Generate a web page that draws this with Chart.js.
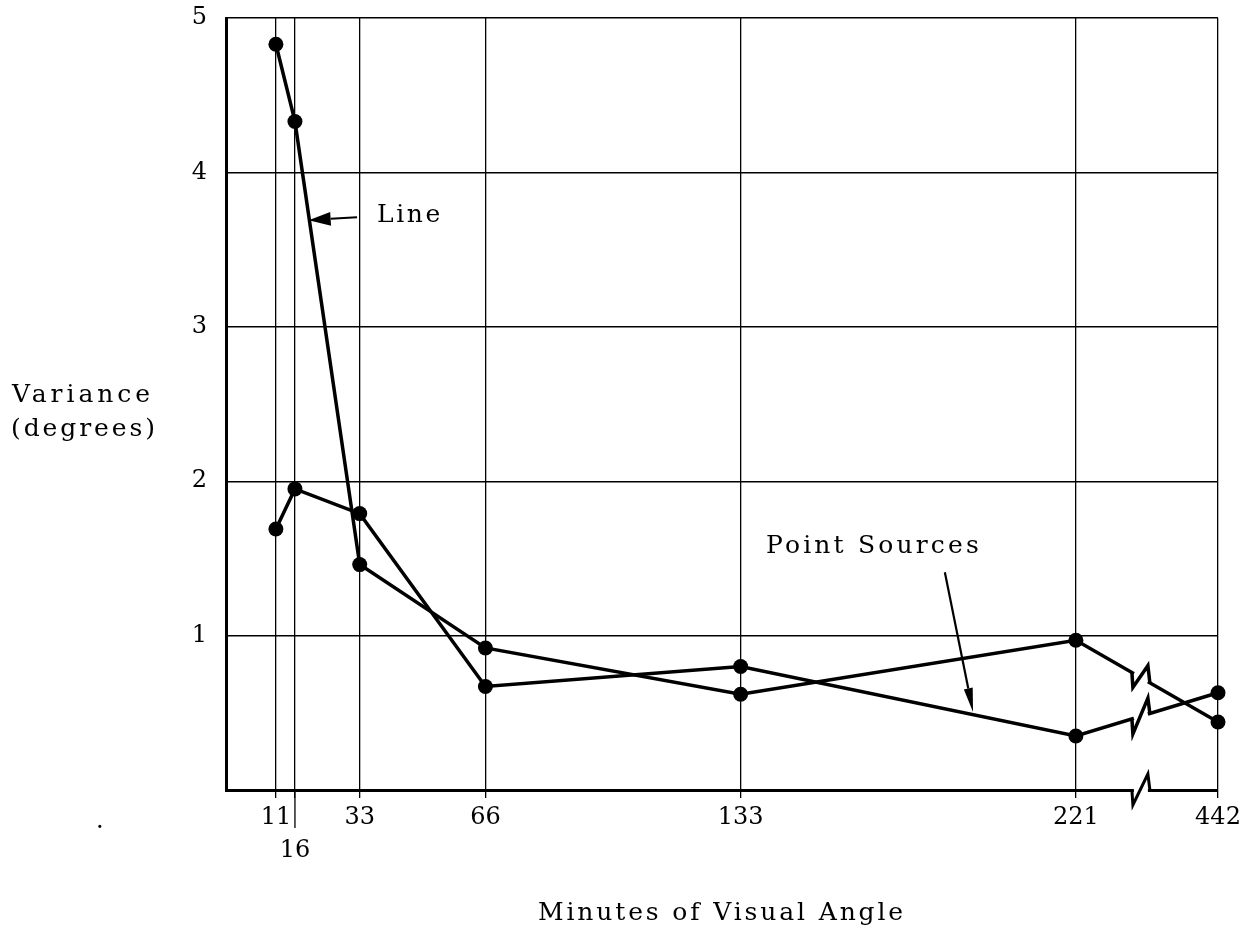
<!DOCTYPE html>
<html>
<head>
<meta charset="utf-8">
<script src="https://cdn.jsdelivr.net/npm/chart.js@4"></script>
<style>
  html, body { margin: 0; padding: 0; background: #ffffff; }
  #wrap { width: 1259px; height: 930px; }
</style>
</head>
<body>
<div id="wrap"><canvas id="c" width="1259" height="930"></canvas></div>
<script>
// ---- data ----
const xCategories = [11, 16, 33, 66, 133, 221, 442];          // minutes of visual angle
const lineVariance = [4.83, 4.33, 1.46, 0.92, 0.62, 0.97, 0.44];
const pointSourceVariance = [1.69, 1.95, 1.79, 0.67, 0.80, 0.35, 0.63];
const xTickLabels = ['11', '16', '33', '66', '133', '221', '442'];
const yTickValues = [0, 1, 2, 3, 4, 5];

// broken x axis: values beyond 221 are compressed
const BREAK_START = 221;
const BREAK_FACTOR = 0.1688;
const AXIS_BREAK_MARK = 235.7;   // axis position of the zig-zag break symbol
function axisPos(v) { return v <= BREAK_START ? v : BREAK_START + (v - BREAK_START) * BREAK_FACTOR; }

const FONT = 'DejaVu Serif';

function toPoints(series) { return xCategories.map((v, i) => ({ x: axisPos(v), y: series[i] })); }

const annotationPlugin = {
  id: 'annotations',
  afterDatasetsDraw(chart) {
    const ctx = chart.ctx;
    const xs = chart.scales.x, ys = chart.scales.y;
    const ca = chart.chartArea;

    // 16 grid line extends below the axis
    ctx.save();
    ctx.strokeStyle = '#000'; ctx.lineWidth = 1.3;
    const x16 = xs.getPixelForValue(axisPos(16));
    ctx.beginPath(); ctx.moveTo(x16, ca.bottom); ctx.lineTo(x16, ca.bottom + 38); ctx.stroke();
    ctx.restore();

    // zig-zag break marks
    const bx = xs.getPixelForValue(AXIS_BREAK_MARK);
    function zigzag(yAt, lw) {
      const A = [bx, yAt(bx)], D = [bx + 18, yAt(bx + 18)];
      const B = [bx + 1, yAt(bx) + 15], C = [bx + 16, yAt(bx + 16) - 16];
      ctx.save();
      ctx.strokeStyle = '#fff'; ctx.lineWidth = lw + 4;
      ctx.beginPath(); ctx.moveTo(A[0] + 2, A[1] + (D[1]-A[1]) * 2/18); ctx.lineTo(D[0] - 2, D[1] - (D[1]-A[1]) * 2/18); ctx.stroke();
      ctx.strokeStyle = '#000'; ctx.lineWidth = lw; ctx.lineJoin = 'miter';
      ctx.beginPath(); ctx.moveTo(A[0], A[1]); ctx.lineTo(B[0], B[1]); ctx.lineTo(C[0], C[1]); ctx.lineTo(D[0], D[1]); ctx.stroke();
      ctx.restore();
    }
    chart.data.datasets.forEach((ds, di) => {
      const pts = chart.getDatasetMeta(di).data;
      const p0 = pts[5], p1 = pts[6];
      zigzag(x => p0.y + (p1.y - p0.y) * (x - p0.x) / (p1.x - p0.x), 3.5);
    });
    const axisY = ys.getPixelForValue(0);
    zigzag(() => axisY, 3);

    // arrows
    function arrow(fx, fy, tx, ty, headLen, headW, lw) {
      const X1 = xs.getPixelForValue(fx), Y1 = ys.getPixelForValue(fy);
      const X2 = xs.getPixelForValue(tx), Y2 = ys.getPixelForValue(ty);
      const ang = Math.atan2(Y2 - Y1, X2 - X1);
      const bxp = X2 - headLen * Math.cos(ang), byp = Y2 - headLen * Math.sin(ang);
      ctx.save();
      ctx.strokeStyle = '#000'; ctx.fillStyle = '#000'; ctx.lineWidth = lw;
      ctx.beginPath(); ctx.moveTo(X1, Y1); ctx.lineTo(bxp, byp); ctx.stroke();
      ctx.beginPath();
      ctx.moveTo(X2, Y2);
      ctx.lineTo(bxp + headW / 2 * Math.sin(ang), byp - headW / 2 * Math.cos(ang));
      ctx.lineTo(bxp - headW / 2 * Math.sin(ang), byp + headW / 2 * Math.cos(ang));
      ctx.closePath(); ctx.fill();
      ctx.restore();
    }
    arrow(32.3, 3.71, 19.6, 3.69, 22, 14, 2);
    arrow(186.6, 1.41, 194.0, 0.505, 24, 9, 2.2);

    // texts with fitted spacing
    function text(str, x, y, size, width, align, baseline) {
      ctx.save();
      ctx.fillStyle = '#000';
      ctx.font = size + 'px "' + FONT + '"';
      ctx.textBaseline = baseline || 'middle';
      ctx.textAlign = 'left';
      ctx.letterSpacing = '0px';
      const nat = ctx.measureText(str).width;
      const sp = (width - nat) / (str.length);
      ctx.letterSpacing = sp.toFixed(2) + 'px';
      const w = nat + sp * str.length;
      let left = x;
      if (align === 'center') left = x - w / 2;
      ctx.fillText(str, left, y);
      ctx.restore();
    }
    text('Line', xs.getPixelForValue(46.2), ys.getPixelForValue(3.72), 25, 66, 'center');
    text('Point Sources', xs.getPixelForValue(168), ys.getPixelForValue(1.574), 25, 216, 'center');
    text('Variance', 12, 395, 25, 142, 'left');
    text('(degrees)', 11, 429, 25, 147, 'left');
    text('Minutes of Visual Angle', (ca.left + ca.right) / 2, ca.bottom + 130, 25, 368, 'center', 'alphabetic');
    text('.', 96, 822, 24, 6, 'left');
  }
};

const commonDs = {
  borderColor: '#000', backgroundColor: '#000', borderWidth: 3.5,
  pointRadius: 7.5, pointBackgroundColor: '#000', pointBorderWidth: 0,
  pointHoverRadius: 7.5, tension: 0, clip: false, fill: false
};

new Chart(document.getElementById('c'), {
  type: 'line',
  data: {
    datasets: [
      Object.assign({ label: 'Line', data: toPoints(lineVariance) }, commonDs),
      Object.assign({ label: 'Point Sources', data: toPoints(pointSourceVariance) }, commonDs)
    ]
  },
  options: {
    responsive: false,
    animation: false,
    devicePixelRatio: 1,
    layout: { padding: { top: 18, right: 41, left: 0, bottom: 0 } },
    plugins: { legend: { display: false }, tooltip: { enabled: false } },
    events: [],
    scales: {
      x: {
        type: 'linear',
        min: -2.1,
        max: axisPos(442),
        afterBuildTicks: s => { s.ticks = xCategories.map(v => ({ value: axisPos(v) })); },
        afterFit: s => { s.height = 140; },
        grid: { color: '#000', lineWidth: 1.3, tickLength: 8, tickColor: '#000', tickWidth: 1.3 },
        border: { display: true, color: '#000', width: 3 },
        ticks: {
          autoSkip: false, maxRotation: 0, minRotation: 0,
          color: '#000', padding: 3,
          font: { family: FONT, size: 24, lineHeight: 1.375 },
          callback: (v, i) => xTickLabels[i] === '16' ? ['', xTickLabels[i]] : xTickLabels[i]
        }
      },
      y: {
        type: 'linear',
        min: 0, max: 5,
        afterBuildTicks: s => { s.ticks = yTickValues.map(v => ({ value: v })); },
        afterFit: s => { s.width = 226; },
        grid: { color: '#000', lineWidth: 1.4, drawTicks: true, tickLength: 19, tickColor: 'rgba(0,0,0,0)' },
        border: { display: true, color: '#000', width: 3 },
        ticks: {
          color: '#000', padding: 0,
          font: { family: FONT, size: 24 },
          callback: v => v === 0 ? '' : String(v)
        }
      }
    }
  },
  plugins: [annotationPlugin]
});
</script>
</body>
</html>
